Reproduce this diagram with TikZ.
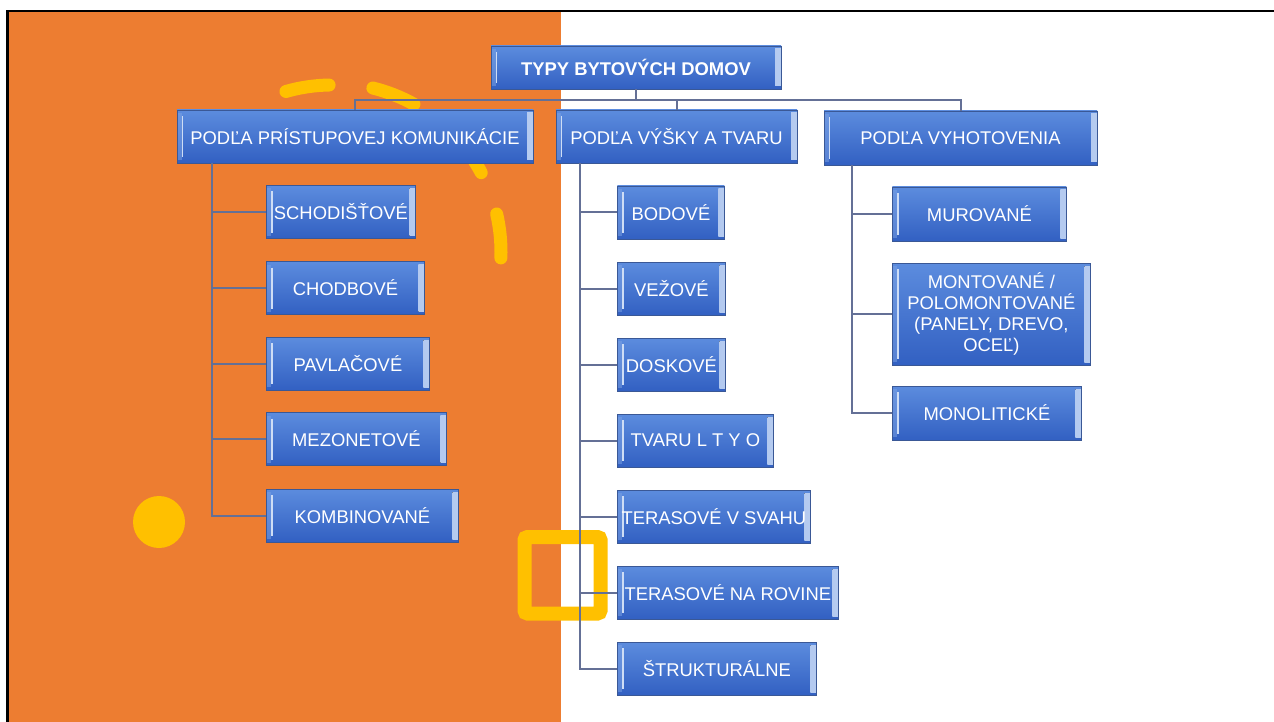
\documentclass[tikz,border=0pt]{standalone}
\usepackage{fontspec}
\setmainfont{Liberation Sans}
\definecolor{slideorange}{RGB}{237,125,49}
\definecolor{accentyellow}{RGB}{255,192,0}
\definecolor{boxtop}{RGB}{92,140,222}
\definecolor{boxbot}{RGB}{50,96,194}
\definecolor{boxedge}{RGB}{58,88,150}
\definecolor{linkgray}{RGB}{100,112,150}
\tikzset{
  box/.style={draw=boxedge, line width=0.8pt, top color=boxtop, bottom color=boxbot,
    text=white, font=\fontsize{18.4}{21}\selectfont, minimum height=53pt,
    inner sep=0pt, align=center,
    path picture={
      \fill[left color=boxtop!85!white, right color=boxtop!45!white]
        ([xshift=-6pt,yshift=-3pt]path picture bounding box.north east) rectangle ([yshift=3pt]path picture bounding box.south east);
      \fill[boxtop!80!white, opacity=0.5]
        ([yshift=-3pt]path picture bounding box.north west) rectangle ([xshift=5pt,yshift=3pt]path picture bounding box.south west);
      \draw[boxtop!30!white, line width=1.4pt]
        ([xshift=5.5pt,yshift=-6pt]path picture bounding box.north west) -- ([xshift=5.5pt,yshift=6pt]path picture bounding box.south west);
    }},
  link/.style={draw=linkgray, line width=2pt},
  deco/.style={draw=accentyellow, line width=13pt, line cap=round}
}
\begin{document}
\begin{tikzpicture}[x=1pt,y=-1pt]
		\useasboundingbox (0,0) rectangle (1274,722);
		% background
		\fill[slideorange] (8.5,12) rectangle (561,722);
		\draw[black, line width=2.5pt] (7.5,722) -- (7.5,11) -- (1274,11);
		% yellow marks
		\draw[deco] (332,252) ++(-106:167) arc (-106:-91:167);
		\draw[deco] (332,252) ++(-76:169) arc (-76:-61:169);
		\draw[deco] (332,252) ++(-42:169) arc (-42:-28:169);
		\draw[deco] (332,252) ++(-13:169) arc (-13:2:169);
		\fill[accentyellow] (159,522) circle (26);
		\draw[accentyellow, line width=14pt, rounded corners=3pt] (524.5,537) rectangle (600.5,613.5);
		% root and main groups
		\node[box, font=\fontsize{18.4}{21}\selectfont\bfseries, minimum width=290pt, minimum height=43pt] (root) at (636,67.5) {TYPY BYTOVÝCH DOMOV};
		\node[box, minimum width=356pt] (l1) at (355,136.5) {PODĽA PRÍSTUPOVEJ KOMUNIKÁCIE};
		\node[box, minimum width=241pt] (l2) at (676.5,136.5) {PODĽA VÝŠKY A TVARU};
		\node[box, minimum width=273pt, minimum height=54pt] (l3) at (960.5,138) {PODĽA VYHOTOVENIA};
		\coordinate (bus) at (636,100);
		\draw[link] (root.south) -- (bus);
		\foreach \n in {l1,l2,l3}
		{
			\draw[link] (bus) -| (\n.north);
		}
		% podla pristupovej komunikacie
		\foreach \n/\t/\w/\y in {a1/SCHODIŠŤOVÉ/149/212, a2/CHODBOVÉ/158/288, a3/PAVLAČOVÉ/163/363.5, a4/MEZONETOVÉ/180/439, a5/KOMBINOVANÉ/192/515.5}
		{
			\draw[link] ([xshift=35pt]l1.south west) |- (266,\y);
			\node[box, anchor=west, minimum width=\w pt] (\n) at (266,\y) {\t};
		}
		% podla vysky a tvaru
		\foreach \n/\t/\w/\y in {b1/BODOVÉ/107/212.5, b2/VEŽOVÉ/108/288.5, b3/DOSKOVÉ/108/364.5, b4/TVARU L T Y O/156/440.5, b5/TERASOVÉ V SVAHU/193/516.5, b6/TERASOVÉ NA ROVINE/221/592.5, b7/ŠTRUKTURÁLNE/199/668.5}
		{
			\draw[link] ([xshift=24pt]l2.south west) |- (617,\y);
			\node[box, anchor=west, minimum width=\w pt] (\n) at (617,\y) {\t};
		}
		% podla vyhotovenia
		\node[box, anchor=west, minimum width=174pt, minimum height=54pt] (c1) at (892,214) {MUROVANÉ};
		\node[box, anchor=west, minimum width=198pt, minimum height=102pt] (c2) at (892,314) {MONTOVANÉ /\\POLOMONTOVANÉ\\(PANELY, DREVO,\\OCEĽ)};
		\node[box, anchor=west, minimum width=189pt, minimum height=54pt] (c3) at (892,413) {MONOLITICKÉ};
		\foreach \n in {c1,c2,c3}
		{
			\draw[link] ([xshift=28pt]l3.south west) |- (\n.west);
		}
\end{tikzpicture}
\end{document}
